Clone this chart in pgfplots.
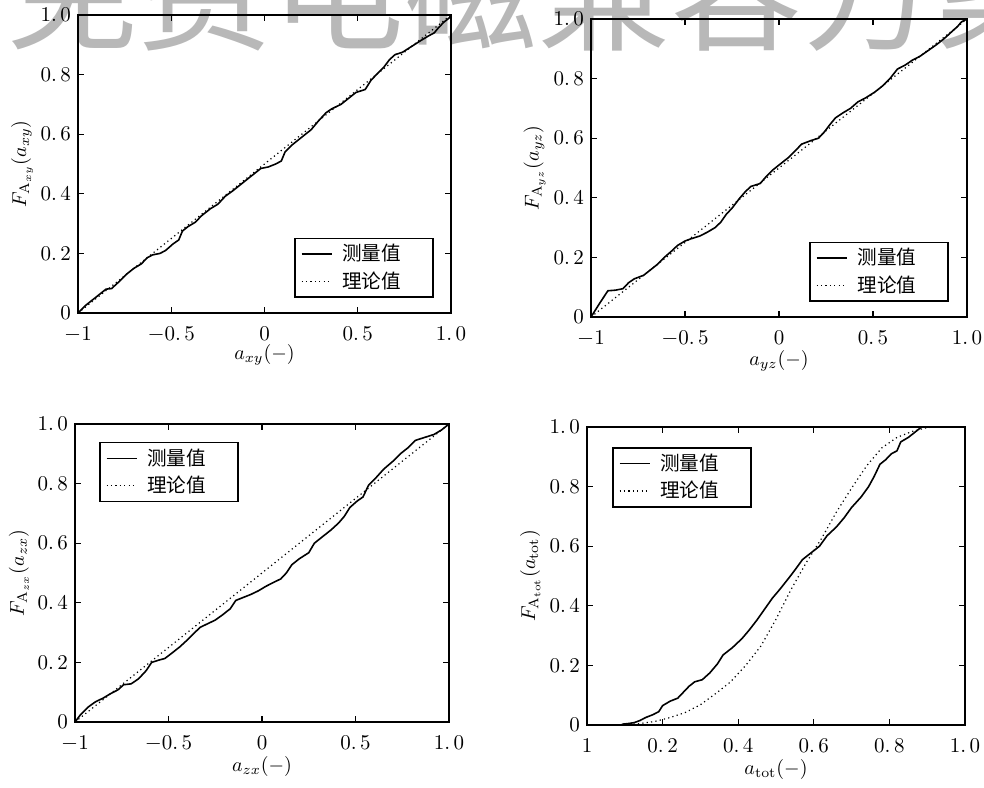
\documentclass[border=0pt]{standalone}
\usepackage{fontspec}
\usepackage{pgfplots}
\pgfplotsset{compat=1.18}
\newfontfamily\cjk{Noto Sans CJK SC}
\definecolor{wm}{gray}{0.72}

\pgfplotsset{
  cdf/.style={
    scale only axis, height=149pt,
    axis line style={line width=0.8pt},
    tick style={line width=0.6pt, black},
    tick align=inside, xtick pos=both, ytick pos=both,
    xticklabel pos=lower, yticklabel pos=left,
    major tick length=3pt,
    ymin=0, ymax=1,
    ytick={0,0.2,0.4,0.6,0.8,1},
    yticklabels={0,{0.\,2},{0.\,4},{0.\,6},{0.\,8},{1.\,0}},
    tick label style={font=\fontsize{10.5}{12}\selectfont},
    xticklabel shift=3pt,
    label style={font=\fontsize{10.5}{12}\selectfont},
    every axis y label/.style={at={(axis description cs:-0.15,0.5)}, rotate=90, anchor=center},
    every axis x label/.style={at={(axis description cs:0.5,-0.148)}, anchor=center},
    legend style={draw=black, line width=0.8pt, font=\cjk\fontsize{9.8}{11}\selectfont,
      cells={anchor=west}, row sep=0pt, inner xsep=3pt, inner ysep=1pt},
    legend image code/.code={\draw[#1] (1pt,0pt) -- (16pt,0pt);},
  },
  sym/.style={cdf, xmin=-1, xmax=1,
    xtick={-1,-0.5,0,0.5,1},
    xticklabels={$-$1,{$-$0.\,5},0,{0.\,5},{1.\,0}}},
  meas/.style={black, line width=0.8pt, sharp plot, no marks},
  theo/.style={black, line width=0.6pt, dash pattern=on 0.6pt off 1.6pt, no marks},
}
\newcommand{\legA}{\hspace*{3pt}测量值\hspace*{11pt}}
\newcommand{\legB}{\hspace*{3pt}理论值\hspace*{11pt}}

\begin{document}
\begin{tikzpicture}
\useasboundingbox (0,0) rectangle (492pt,393.5pt);
\node[anchor=base west, inner sep=0pt, text=wm, font=\cjk\fontsize{66.5}{66.5}\selectfont]
  at (2.75pt,373pt) {免费电磁兼容方案};

% top left
\begin{axis}[sym, at={(39pt,237pt)}, anchor=south west, width=186.5pt,
  xlabel={$a_{xy}(-)$}, ylabel={$F_{\mathrm{A}_{xy}}(a_{xy})$},
  every axis x label/.style={at={(axis description cs:0.5,-0.141)}, anchor=center},
  legend style={at={(0.579,0.05)}, anchor=south west}]
\addplot[meas] table {
-1 0
-0.96 0.025
-0.92 0.045
-0.88 0.065
-0.85 0.08
-0.82 0.082
-0.78 0.105
-0.74 0.13
-0.70 0.15
-0.66 0.165
-0.63 0.185
-0.60 0.195
-0.56 0.20
-0.53 0.21
-0.49 0.232
-0.46 0.245
-0.44 0.275
-0.41 0.29
-0.37 0.305
-0.34 0.325
-0.29 0.35
-0.25 0.365
-0.21 0.392
-0.17 0.41
-0.13 0.43
-0.09 0.45
-0.05 0.47
-0.02 0.485
0.02 0.49
0.06 0.50
0.09 0.51
0.11 0.54
0.15 0.565
0.20 0.59
0.25 0.615
0.29 0.645
0.33 0.672
0.36 0.685
0.41 0.70
0.45 0.72
0.49 0.74
0.54 0.75
0.57 0.78
0.60 0.80
0.64 0.825
0.67 0.85
0.70 0.867
0.74 0.875
0.79 0.895
0.84 0.915
0.88 0.93
0.91 0.94
0.93 0.955
0.96 0.975
0.99 0.99
1.0 1.0
};
\addplot[theo] table {
-1 0
1 1
};
\legend{\legA,\legB}
\end{axis}

% top right
\begin{axis}[sym, at={(295.5pt,235pt)}, anchor=south west, width=188pt,
  xlabel={$a_{yz}(-)$}, ylabel={$F_{\mathrm{A}_{yz}}(a_{yz})$},
  legend style={at={(0.58,0.05)}, anchor=south west}]
\addplot[meas] table {
-1 0
-0.95 0.05
-0.91 0.088
-0.87 0.09
-0.83 0.095
-0.80 0.115
-0.77 0.128
-0.72 0.14
-0.69 0.155
-0.65 0.175
-0.61 0.20
-0.57 0.222
-0.54 0.24
-0.50 0.255
-0.47 0.262
-0.42 0.272
-0.38 0.285
-0.34 0.30
-0.31 0.318
-0.28 0.345
-0.25 0.365
-0.21 0.398
-0.18 0.42
-0.15 0.438
-0.10 0.448
-0.07 0.47
-0.03 0.495
0.01 0.515
0.05 0.535
0.09 0.56
0.12 0.58
0.17 0.592
0.21 0.60
0.24 0.62
0.27 0.645
0.30 0.668
0.34 0.685
0.38 0.70
0.42 0.722
0.46 0.735
0.51 0.755
0.55 0.775
0.59 0.80
0.63 0.832
0.67 0.845
0.71 0.862
0.75 0.875
0.80 0.897
0.84 0.915
0.88 0.935
0.92 0.958
0.95 0.975
0.97 0.99
1.0 1.0
};
\addplot[theo] table {
-1 0
1 1
};
\legend{\legA,\legB}
\end{axis}

% bottom left
\begin{axis}[sym, at={(37.5pt,32.5pt)}, anchor=south west, width=187pt,
  xlabel={$a_{zx}(-)$}, ylabel={$F_{\mathrm{A}_{zx}}(a_{zx})$},
  legend style={at={(0.064,0.94)}, anchor=north west}]
\addplot[meas] table {
-1 0
-0.97 0.025
-0.93 0.05
-0.89 0.068
-0.85 0.08
-0.81 0.095
-0.77 0.108
-0.74 0.125
-0.70 0.128
-0.66 0.145
-0.62 0.172
-0.59 0.20
-0.55 0.208
-0.52 0.213
-0.48 0.232
-0.44 0.252
-0.40 0.275
-0.36 0.30
-0.33 0.318
-0.29 0.33
-0.25 0.342
-0.21 0.36
-0.17 0.38
-0.14 0.408
-0.10 0.418
-0.06 0.428
-0.02 0.44
0.02 0.455
0.06 0.468
0.10 0.48
0.13 0.50
0.16 0.528
0.20 0.548
0.25 0.568
0.28 0.60
0.32 0.62
0.37 0.645
0.41 0.668
0.44 0.69
0.47 0.72
0.51 0.742
0.54 0.755
0.57 0.795
0.61 0.82
0.65 0.848
0.70 0.875
0.74 0.90
0.78 0.92
0.82 0.945
0.87 0.955
0.92 0.965
0.96 0.98
1.0 1.0
};
\addplot[theo] table {
-1 0
1 1
};
\legend{\legA,\legB}
\end{axis}

% bottom right
\begin{axis}[cdf, at={(293.5pt,31pt)}, anchor=south west, width=189pt,
  xmin=0, xmax=1, xtick={0,0.2,0.4,0.6,0.8,1},
  xticklabels={1,{0.\,2},{0.\,4},{0.\,6},{0.\,8},{1.\,0}},
  xlabel={$a_{\mathrm{tot}}(-)$}, ylabel={$F_{\mathrm{A}_{\mathrm{tot}}}(a_{\mathrm{tot}})$},
  legend style={at={(0.066,0.933)}, anchor=north west}]
\addplot[meas] table {
0 0
0.09 0
0.095 0.003
0.11 0.005
0.125 0.008
0.14 0.015
0.155 0.025
0.175 0.035
0.19 0.045
0.20 0.065
0.22 0.08
0.24 0.09
0.255 0.11
0.27 0.13
0.285 0.145
0.305 0.152
0.325 0.175
0.345 0.205
0.36 0.235
0.385 0.26
0.41 0.29
0.43 0.32
0.45 0.353
0.475 0.398
0.49 0.425
0.51 0.455
0.535 0.495
0.55 0.52
0.57 0.555
0.59 0.575
0.615 0.60
0.635 0.635
0.66 0.665
0.68 0.695
0.70 0.73
0.725 0.765
0.745 0.80
0.76 0.835
0.775 0.875
0.79 0.89
0.805 0.91
0.82 0.92
0.83 0.95
0.85 0.965
0.87 0.985
0.885 1.0
1.0 1.0
};
\addplot[theo] table {
0.10 0
0.14 0.005
0.18 0.012
0.22 0.025
0.26 0.042
0.30 0.068
0.34 0.105
0.38 0.145
0.42 0.20
0.46 0.265
0.50 0.355
0.54 0.455
0.58 0.545
0.62 0.625
0.66 0.715
0.70 0.795
0.74 0.87
0.78 0.93
0.82 0.965
0.86 0.985
0.90 0.998
0.92 1.0
};
\legend{\legA,\legB}
\end{axis}
\end{tikzpicture}
\end{document}
